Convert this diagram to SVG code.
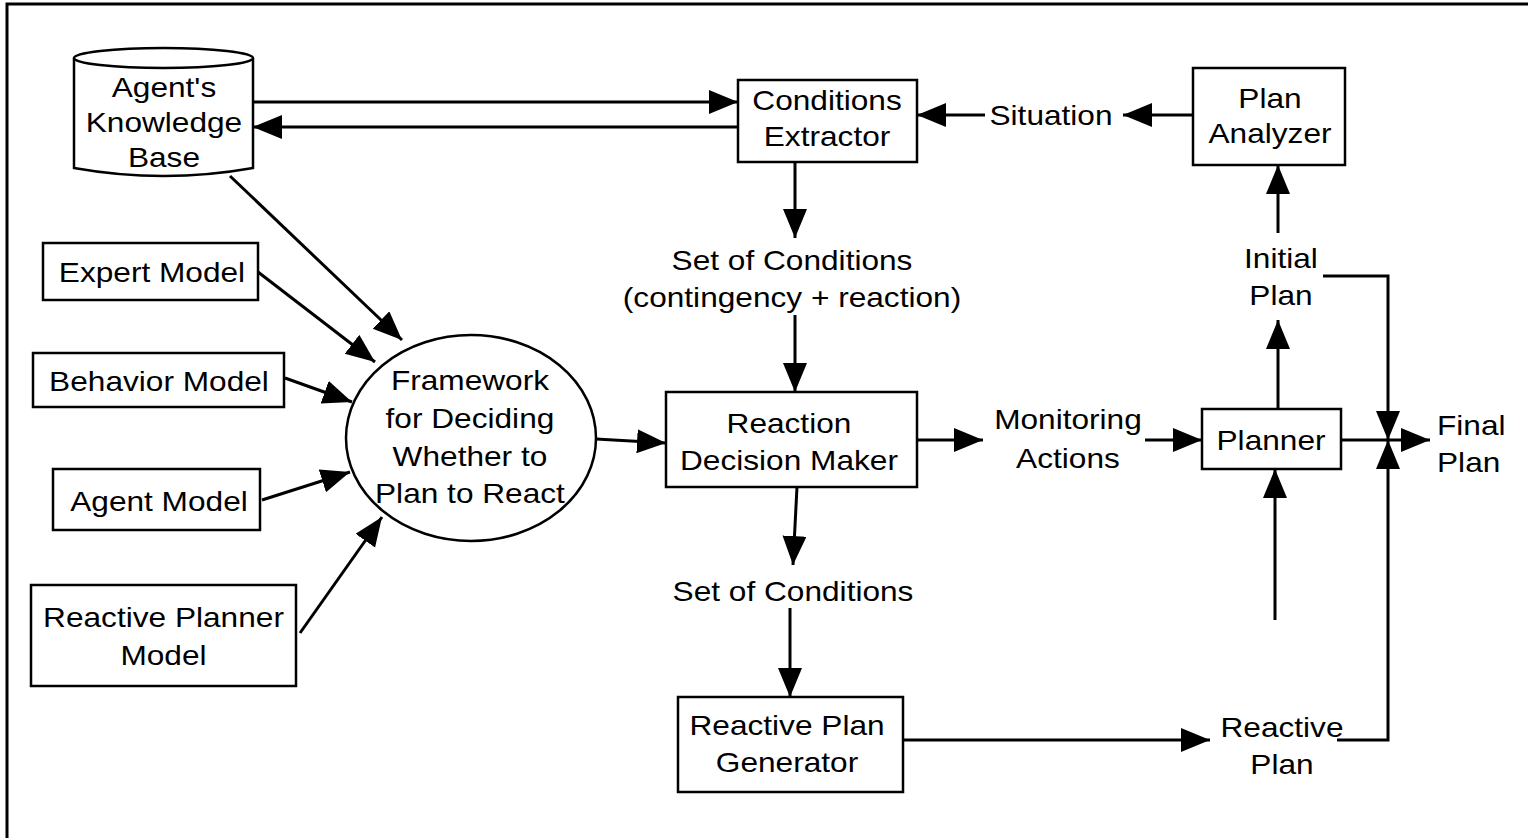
<svg xmlns="http://www.w3.org/2000/svg" width="1528" height="838" viewBox="0 0 1528 838">
<style>
.box{fill:#fff;stroke:#000;stroke-width:2.5}
.ln{fill:none;stroke:#000;stroke-width:3}
.t{font-family:"Liberation Sans",Arial,Helvetica,sans-serif;font-size:28px;fill:#000;text-anchor:middle}
.ts{text-anchor:start}
</style>
<defs>
<marker id="ah" markerUnits="userSpaceOnUse" markerWidth="32" markerHeight="26" refX="29" refY="12" orient="auto">
<path d="M0,0 L29,12 L0,24 Z" fill="#000"/>
</marker>
</defs>
<rect x="7" y="4" width="1535" height="850" fill="#fff" stroke="#000" stroke-width="3"/>

<g id="connectors" class="ln" marker-end="url(#ah)">
<line x1="253" y1="102" x2="738" y2="102"/>
<line x1="738" y1="127" x2="253" y2="127"/>
<line x1="985" y1="115" x2="917" y2="115"/>
<line x1="1193" y1="115" x2="1123" y2="115"/>
<line x1="1278" y1="233" x2="1278" y2="165"/>
<line x1="1278" y1="409" x2="1278" y2="320"/>
<polyline points="1323,276 1388,276 1388,440"/>
<line x1="1341" y1="440" x2="1430" y2="440"/>
<polyline points="1337,740 1388,740 1388,440"/>
<line x1="917" y1="440" x2="983" y2="440"/>
<line x1="1145" y1="440" x2="1202" y2="440"/>
<line x1="1275" y1="620" x2="1275" y2="469"/>
<line x1="795" y1="162" x2="795" y2="238"/>
<line x1="795" y1="315" x2="795" y2="392"/>
<line x1="797" y1="487" x2="793" y2="565"/>
<line x1="790" y1="608" x2="790" y2="697"/>
<line x1="888" y1="740" x2="1210" y2="740"/>
<line x1="596" y1="439" x2="666" y2="443"/>
<line x1="230" y1="176" x2="402" y2="340"/>
<line x1="258" y1="272" x2="375" y2="362"/>
<line x1="285" y1="378" x2="352" y2="402"/>
<line x1="262" y1="500" x2="350" y2="472"/>
<line x1="300" y1="633" x2="382" y2="517"/>
</g>

<g id="kb">
<path d="M74,58 L74,168 Q163.5,184 253,168 L253,58" fill="#fff" stroke="#000" stroke-width="2.5"/>
<ellipse cx="163.5" cy="58" rx="89.5" ry="10" fill="#fff" stroke="#000" stroke-width="2.5"/>
</g>
<g id="ce"><rect class="box" x="738" y="80" width="179" height="82"/></g>
<g id="pa"><rect class="box" x="1193" y="68" width="152" height="97"/></g>
<g id="em"><rect class="box" x="43" y="243" width="215" height="57"/></g>
<g id="bm"><rect class="box" x="33" y="353" width="251" height="54"/></g>
<g id="am"><rect class="box" x="53" y="469" width="207" height="61"/></g>
<g id="rpm"><rect class="box" x="31" y="585" width="265" height="101"/></g>
<g id="fw"><ellipse cx="471" cy="438" rx="125" ry="103" fill="#fff" stroke="#000" stroke-width="2.5"/></g>
<g id="rdm"><rect class="box" x="666" y="392" width="251" height="95"/></g>
<g id="planner"><rect class="box" x="1202" y="409" width="139" height="60"/></g>
<g id="rpg"><rect class="box" x="678" y="697" width="225" height="95"/></g>

<g id="labels" transform="scale(1.13 1)">
<text class="t" x="145.1" y="97">Agent's</text>
<text class="t" x="145.1" y="132">Knowledge</text>
<text class="t" x="145.1" y="167">Base</text>
<text class="t" x="731.9" y="110">Conditions</text>
<text class="t" x="731.9" y="146">Extractor</text>
<text class="t" x="930.1" y="125">Situation</text>
<text class="t" x="1123.9" y="108">Plan</text>
<text class="t" x="1123.9" y="143">Analyzer</text>
<text class="t" x="1133.6" y="268">Initial</text>
<text class="t" x="1133.6" y="305">Plan</text>
<text class="t" x="134.5" y="282">Expert Model</text>
<text class="t" x="140.7" y="391">Behavior Model</text>
<text class="t" x="140.7" y="511">Agent Model</text>
<text class="t" x="144.7" y="627">Reactive Planner</text>
<text class="t" x="144.7" y="665">Model</text>
<text class="t" x="700.9" y="270">Set of Conditions</text>
<text class="t" x="700.9" y="307">(contingency + reaction)</text>
<text class="t" x="415.9" y="390">Framework</text>
<text class="t" x="415.9" y="428">for Deciding</text>
<text class="t" x="415.9" y="466">Whether to</text>
<text class="t" x="415.9" y="503">Plan to React</text>
<text class="t" x="698.2" y="433">Reaction</text>
<text class="t" x="698.2" y="470">Decision Maker</text>
<text class="t" x="945.1" y="429">Monitoring</text>
<text class="t" x="945.1" y="468">Actions</text>
<text class="t" x="1124.8" y="450">Planner</text>
<text class="t ts" x="1271.7" y="435">Final</text>
<text class="t ts" x="1271.7" y="472">Plan</text>
<text class="t" x="701.8" y="601">Set of Conditions</text>
<text class="t" x="696.5" y="735">Reactive Plan</text>
<text class="t" x="696.5" y="772">Generator</text>
<text class="t" x="1134.5" y="737">Reactive</text>
<text class="t" x="1134.5" y="774">Plan</text>
</g>
</svg>
